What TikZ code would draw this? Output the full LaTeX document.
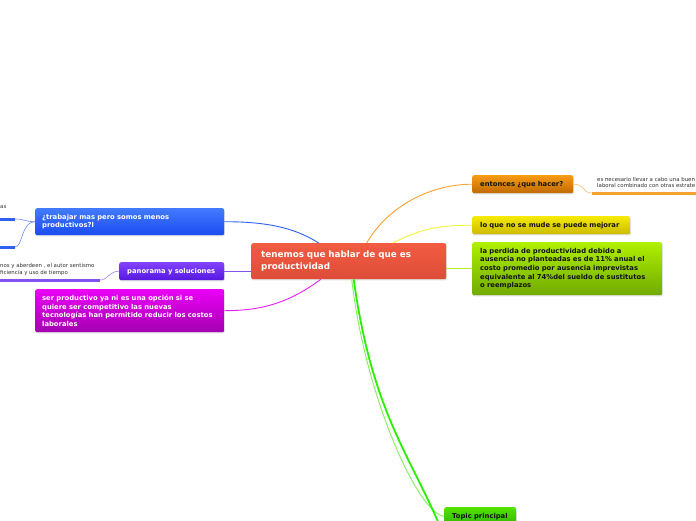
\documentclass[tikz,border=0pt]{standalone}
\usepackage{fontspec}
\setmainfont{DejaVu Sans}
\usetikzlibrary{shadows,calc}
\definecolor{cRedT}{RGB}{241,92,66}
\definecolor{cRedB}{RGB}{222,76,56}
\definecolor{cOraT}{RGB}{246,156,20}
\definecolor{cOraB}{RGB}{192,106,0}
\definecolor{cYelT}{RGB}{246,234,0}
\definecolor{cYelB}{RGB}{204,186,0}
\definecolor{cLimT}{RGB}{176,240,0}
\definecolor{cLimB}{RGB}{112,170,0}
\definecolor{cGrnT}{RGB}{84,226,0}
\definecolor{cGrnB}{RGB}{48,184,0}
\definecolor{cBluT}{RGB}{66,122,255}
\definecolor{cBluB}{RGB}{26,76,240}
\definecolor{cPurT}{RGB}{130,66,255}
\definecolor{cPurB}{RGB}{86,24,224}
\definecolor{cMagT}{RGB}{234,0,246}
\definecolor{cMagB}{RGB}{164,0,176}
\definecolor{lOra}{RGB}{246,162,48}
\definecolor{lYel}{RGB}{244,244,60}
\definecolor{lLim}{RGB}{180,240,40}
\definecolor{lGrn}{RGB}{40,240,0}
\definecolor{lGrn2}{RGB}{130,240,90}
\definecolor{lBlu}{RGB}{48,96,240}
\definecolor{lPur}{RGB}{130,82,240}
\definecolor{lMag}{RGB}{226,32,240}
\definecolor{txtDark}{RGB}{20,20,20}
\tikzset{
  mmbox/.style={rounded corners=2pt, inner xsep=8pt, inner ysep=0pt, anchor=north west,
    align=left, font=\fontsize{6.8}{8.7}\selectfont\bfseries,
    drop shadow={opacity=0.25, shadow xshift=0.6pt, shadow yshift=-1.2pt}},
  wtext/.style={text=white},
  dtext/.style={text=txtDark},
  conn/.style={line width=0.9pt},
  uline/.style={line width=3pt},
  tiny/.style={inner sep=0pt, align=left, text=black!80, font=\fontsize{5.4}{6.6}\selectfont}
}
\begin{document}
\begin{tikzpicture}[x=1pt,y=-1pt]
\useasboundingbox (0,0) rectangle (696,520);
\fill[white] (0,0) rectangle (696,520);
\clip (0,0) rectangle (696,520);

% central node
\node[mmbox, wtext, inner xsep=10pt, text width=175pt, minimum height=36pt,
  top color=cRedT, bottom color=cRedB, font=\fontsize{8.8}{12}\selectfont\bfseries]
  (c) at (251,243) {tenemos que hablar de que es\\productividad};

% right side
\node[mmbox, dtext, text width=85pt, minimum height=18pt, top color=cOraT, bottom color=cOraB]
  (ora) at (472,175) {entonces ¿que hacer?};
\node[mmbox, dtext, text width=142pt, minimum height=18pt, top color=cYelT, bottom color=cYelB]
  (yel) at (472,216) {lo que no se mude se puede mejorar};
\node[mmbox, dtext, text width=174pt, minimum height=53pt, top color=cLimT, bottom color=cLimB]
  (lim) at (472,242) {la perdida de productividad debido a\\ausencia no planteadas es de 11\% anual el\\costo promedio por ausencia imprevistas\\equivalente al 74\%del sueldo de sustitutos\\o reemplazos};
\node[mmbox, dtext, text width=56pt, minimum height=18pt, top color=cGrnT, bottom color=cGrnB]
  (grn) at (444,507) {Topic principal};

% left side
\node[mmbox, wtext, inner xsep=7pt, text width=175pt, minimum height=27pt, top color=cBluT, bottom color=cBluB]
  (blu) at (35,208) {¿trabajar mas pero somos menos\\productivos?l};
\node[mmbox, wtext, text width=89pt, minimum height=18pt, top color=cPurT, bottom color=cPurB]
  (pur) at (119,262) {panorama y soluciones};
\node[mmbox, wtext, inner xsep=7pt, text width=175pt, minimum height=43pt, top color=cMagT, bottom color=cMagB]
  (mag) at (35,289) {ser productivo ya ni es una opción si se\\quiere ser competitivo las nuevas\\tecnologías han permitido reducir los costos\\laborales};

% sub-topic texts
\node[tiny, anchor=north west] (oraT) at (597,177) {es necesario llevar a cabo una buen\\laboral combinado con otras estrate};
\node[tiny, anchor=west] (bluT) at (0,207) {as};
\node[tiny, anchor=north west] (purT) at (0,263.5) {nos y aberdeen , el autor sentismo\\ficiencia y uso de tiempo};

% free ends of sub-topic lines
\coordinate (oraA) at (592,193);
\coordinate (oraB) at (700,193);
\coordinate (bluA1) at (15,219);
\coordinate (bluB1) at (-5,219);
\coordinate (bluA2) at (15,247);
\coordinate (bluB2) at (-5,247);
\coordinate (purA) at (100,280);
\coordinate (purB) at (-5,280);
\coordinate (grnOff) at (439,524);

% connectors from center
\draw[conn, lOra] ($(c.north)+(18,0)$) .. controls +(22,-38) and +(-40,0) .. (ora.west);
\draw[conn, lYel] ($(c.north)+(44,0)$) .. controls +(25,-12) and +(-40,0) .. (yel.west);
\draw[conn, lLim] (c.east |- lim.west) -- (lim.west);
\draw[line width=0.9pt, lGrn2] ($(c.south)+(3,0)$) .. controls +(14,120) and +(-25,-2) .. (grn.west);
\draw[line width=1.8pt, lGrn] ($(c.south)+(5,0)$) .. controls +(18,130) and +(-30,-70) .. (grnOff);
\draw[conn, lBlu] ($(c.north)+(-30,0)$) .. controls +(-25,-16) and +(40,0) .. (blu.east);
\draw[conn, lPur] (c.west |- pur.east) -- (pur.east);
\draw[conn, lMag] ($(c.south)+(-28,0)$) .. controls +(-30,22) and +(40,0) .. (mag.east);

% sub-topic connectors and underlines
\draw[line width=0.6pt, lOra!70] (ora.east) .. controls +(12,0) and +(-10,0) .. (oraA);
\draw[uline, lOra] (oraA) -- (oraB);
\draw[line width=0.6pt, lBlu!70] (blu.west) .. controls +(-10,0) and +(10,0) .. (bluA1);
\draw[uline, lBlu] (bluA1) -- (bluB1);
\draw[line width=0.6pt, lBlu!70] (blu.west) .. controls +(-14,0) and +(8,0) .. (bluA2);
\draw[uline, lBlu] (bluA2) -- (bluB2);
\draw[line width=0.6pt, lPur!70] (pur.west) .. controls +(-10,0) and +(8,0) .. (purA);
\draw[uline, lPur] (purA) -- (purB);
\end{tikzpicture}
\end{document}
